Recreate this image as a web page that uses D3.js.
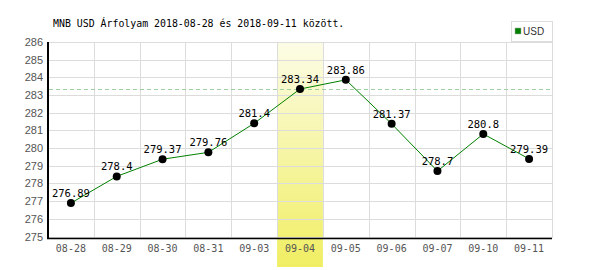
<!DOCTYPE html>
<html>
<head>
<meta charset="utf-8">
<script src="https://cdn.jsdelivr.net/npm/d3@7"></script>
<style>
  body { margin: 0; background: #fff; }
</style>
</head>
<body>
<script>
const width = 600;
const height = 270;

// data
const dates = ["08-28", "08-29", "08-30", "08-31", "09-03", "09-04", "09-05", "09-06", "09-07", "09-10", "09-11"];
const rates = [276.89, 278.4, 279.37, 279.76, 281.4, 283.34, 283.86, 281.37, 278.7, 280.8, 279.39];
const rateLabels = ["276.89", "278.4", "279.37", "279.76", "281.4", "283.34", "283.86", "281.37", "278.7", "280.8", "279.39"];
const yTicks = [275, 276, 277, 278, 279, 280, 281, 282, 283, 284, 285, 286];
const highlightDate = "09-04";
const refValue = 283.34;
const title = "MNB USD Árfolyam 2018-08-28 és 2018-09-11 között.";
const seriesName = "USD";

const mono = "'DejaVu Sans Mono', monospace";
const sans = "'Liberation Sans', Arial, sans-serif";

const svg = d3.select("body")
    .append("svg")
    .attr("width", width)
    .attr("height", height);

const x = d3.scaleBand()
    .domain(dates)
    .range([48, 552]);

const y = d3.scaleLinear()
    .domain([275, 286])
    .range([236.5, 42]);

// yellow gradient for the highlighted day
const grad = svg.append("defs").append("linearGradient")
    .attr("id", "hl")
    .attr("x1", 0).attr("y1", 0).attr("x2", 0).attr("y2", 1);
grad.append("stop").attr("offset", "0%").attr("stop-color", "#fcfce6");
grad.append("stop").attr("offset", "100%").attr("stop-color", "#f0ee62");

svg.append("rect")
    .attr("x", x(highlightDate))
    .attr("y", y(286))
    .attr("width", x.bandwidth())
    .attr("height", 267 - y(286))
    .attr("fill", "url(#hl)");

// grid
svg.append("g")
    .selectAll("line")
    .data(yTicks)
    .enter()
    .append("line")
    .attr("x1", 48)
    .attr("x2", 552)
    .attr("y1", d => Math.round(y(d)) + 0.5)
    .attr("y2", d => Math.round(y(d)) + 0.5)
    .attr("stroke", "#dcdcdc");

svg.append("g")
    .selectAll("line")
    .data(dates.slice(1).concat(["end"]))
    .enter()
    .append("line")
    .attr("x1", d => Math.round(d == "end" ? 552 : x(d)) + 0.5)
    .attr("x2", d => Math.round(d == "end" ? 552 : x(d)) + 0.5)
    .attr("y1", y(286))
    .attr("y2", 238)
    .attr("stroke", "#dcdcdc");

// reference dashed line
svg.append("line")
    .attr("x1", 49)
    .attr("x2", 552)
    .attr("y1", Math.round(y(refValue)) + 0.5)
    .attr("y2", Math.round(y(refValue)) + 0.5)
    .attr("stroke", "#9fcf9f")
    .attr("stroke-dasharray", "4,3");

// axes lines
svg.append("line")
    .attr("x1", 48).attr("x2", 48)
    .attr("y1", y(286)).attr("y2", 239)
    .attr("stroke", "#000").attr("stroke-width", 2);
svg.append("line")
    .attr("x1", 47).attr("x2", 552)
    .attr("y1", 238.5).attr("y2", 238.5)
    .attr("stroke", "#000").attr("stroke-width", 1.5);

// tick labels
svg.append("g")
    .selectAll("text")
    .data(yTicks)
    .enter()
    .append("text")
    .attr("x", 43)
    .attr("y", d => y(d) + 4)
    .attr("text-anchor", "end")
    .attr("font-family", sans)
    .attr("font-size", 11)
    .attr("fill", "#555")
    .text(d => d);

svg.append("g")
    .selectAll("text")
    .data(dates)
    .enter()
    .append("text")
    .attr("x", d => x(d) + x.bandwidth() / 2)
    .attr("y", 252)
    .attr("text-anchor", "middle")
    .attr("font-family", mono)
    .attr("font-size", 10)
    .attr("fill", "#555")
    .text(d => d);

// series line
const line = d3.line()
    .x((d, i) => x(dates[i]) + x.bandwidth() / 2)
    .y(d => y(d));

svg.append("path")
    .datum(rates)
    .attr("d", line)
    .attr("fill", "none")
    .attr("stroke", "#008000")
    .attr("stroke-width", 1);

svg.append("g")
    .selectAll("circle")
    .data(rates)
    .enter()
    .append("circle")
    .attr("cx", (d, i) => x(dates[i]) + x.bandwidth() / 2)
    .attr("cy", d => y(d))
    .attr("r", 4)
    .attr("fill", "#000");

svg.append("g")
    .selectAll("text")
    .data(rates)
    .enter()
    .append("text")
    .attr("x", (d, i) => x(dates[i]) + x.bandwidth() / 2)
    .attr("y", d => y(d) - 6)
    .attr("text-anchor", "middle")
    .attr("font-family", mono)
    .attr("font-size", 10.5)
    .attr("fill", "#000")
    .text((d, i) => rateLabels[i]);

// title
svg.append("text")
    .attr("x", 53)
    .attr("y", 27)
    .attr("font-family", mono)
    .attr("font-size", 9.9)
    .attr("fill", "#000")
    .text(title);

// legend
svg.append("rect")
    .attr("x", 511.5).attr("y", 21.5)
    .attr("width", 41).attr("height", 20)
    .attr("fill", "#fff")
    .attr("stroke", "#dcdcdc");
svg.append("rect")
    .attr("x", 515).attr("y", 28)
    .attr("width", 6).attr("height", 6)
    .attr("fill", "#008000")
    .attr("stroke", "#aaa")
    .attr("stroke-width", 0.5);
svg.append("text")
    .attr("x", 523).attr("y", 35)
    .attr("font-family", sans)
    .attr("font-size", 10)
    .attr("fill", "#333")
    .text(seriesName);
</script>
</body>
</html>
